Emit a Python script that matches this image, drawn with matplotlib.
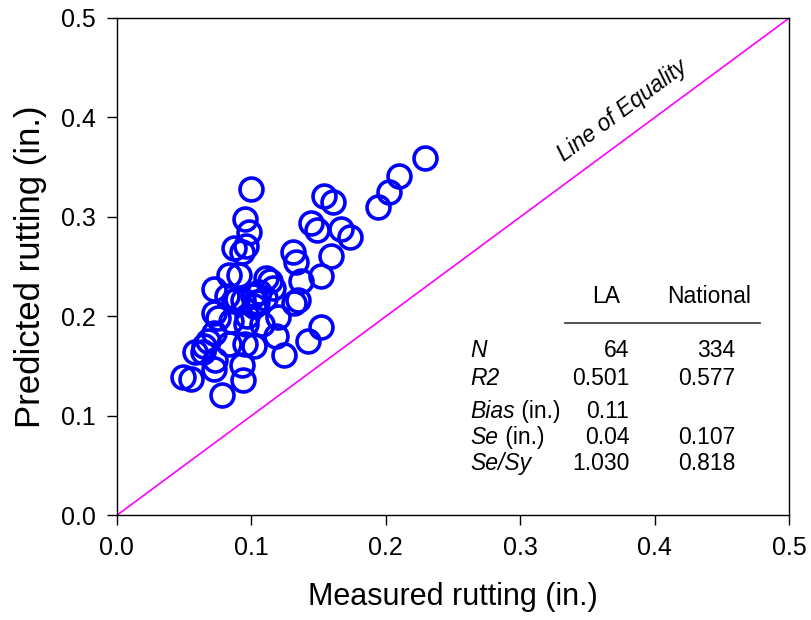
import numpy as np
import matplotlib.pyplot as plt

plt.rcParams['font.family'] = ['Liberation Sans', 'DejaVu Sans']

# measured vs predicted rutting (in.)
measured = [0.229, 0.210, 0.202, 0.194, 0.154, 0.161, 0.144, 0.149, 0.167, 0.173,
            0.159, 0.131, 0.133, 0.152, 0.137, 0.135, 0.132, 0.152, 0.142, 0.124,
            0.100, 0.0955, 0.098, 0.087, 0.096, 0.093, 0.083, 0.091, 0.072, 0.111,
            0.114, 0.116, 0.106, 0.101, 0.094, 0.089, 0.082, 0.072, 0.075, 0.085,
            0.096, 0.108, 0.120, 0.104, 0.102, 0.118, 0.095, 0.102, 0.083, 0.072,
            0.068, 0.065, 0.058, 0.064, 0.072, 0.073, 0.093, 0.094, 0.078, 0.049,
            0.055, 0.087, 0.097, 0.110]
predicted = [0.359, 0.341, 0.325, 0.310, 0.321, 0.315, 0.294, 0.287, 0.288, 0.280,
             0.261, 0.265, 0.255, 0.241, 0.236, 0.216, 0.213, 0.189, 0.175, 0.161,
             0.328, 0.298, 0.285, 0.269, 0.271, 0.265, 0.242, 0.242, 0.227, 0.239,
             0.236, 0.228, 0.224, 0.220, 0.216, 0.217, 0.220, 0.203, 0.198, 0.195,
             0.192, 0.192, 0.199, 0.214, 0.210, 0.180, 0.172, 0.170, 0.172, 0.183,
             0.175, 0.170, 0.164, 0.164, 0.147, 0.156, 0.151, 0.136, 0.121, 0.139,
             0.137, 0.215, 0.200, 0.218]

equality = [0.0, 0.5]

# summary statistics table
stat_names = ['N', 'R2', 'Bias', 'Se', 'Se/Sy']
stat_units = ['', '', ' (in.)', ' (in.)', '']
la_vals = ['64', '0.501', '0.11', '0.04', '1.030']
nat_vals = ['334', '0.577', '', '0.107', '0.818']

fig = plt.figure(figsize=(8.12, 6.2), dpi=100)
ax = fig.add_axes([0.144, 0.169, 0.828, 0.802])

ax.plot(equality, equality, color='#ff00ff', lw=1.2, zorder=2)
ax.plot(measured, predicted, 'o', ms=16.5, mfc='none', mec='#0000ff', mew=2.6,
        zorder=3, clip_on=False)

ax.set_xlim(0, 0.5)
ax.set_ylim(0, 0.5)
ax.set_xticks(np.arange(0, 0.51, 0.1))
ax.set_yticks(np.arange(0, 0.51, 0.1))
ax.xaxis.set_major_formatter(plt.FormatStrFormatter('%.1f'))
ax.yaxis.set_major_formatter(plt.FormatStrFormatter('%.1f'))
ax.tick_params(direction='out', length=7, width=1, labelsize=18, pad=8)
for s in ax.spines.values():
    s.set_linewidth(1)

ax.set_xlabel('Measured rutting (in.)', fontsize=22, labelpad=16)
ax.set_ylabel('Predicted rutting (in.)', fontsize=25, labelpad=10)

# line of equality label
ax.text(0.376, 0.407, 'Line of Equality', rotation=36.5, rotation_mode='anchor',
        ha='center', va='center', style='italic', fontsize=16.3)

# table
fs = 16.5
ax.text(0.3635, 0.2195, 'LA', ha='center', va='center', fontsize=fs)
ax.text(0.440, 0.2195, 'National', ha='center', va='center', fontsize=fs)
ax.plot([0.333, 0.478], [0.193, 0.193], color='#333333', lw=1.2)
row_y = [0.159, 0.131, 0.098, 0.072, 0.045]
for name, unit, la, nat, yy in zip(stat_names, stat_units, la_vals, nat_vals, row_y):
    t = ax.text(0.263, yy, name, ha='left', va='baseline', style='italic', fontsize=fs)
    if unit:
        ax.annotate(unit, xy=(1, 0), xycoords=t, ha='left', va='bottom', fontsize=fs)
    ax.text(0.381, yy, la, ha='right', va='baseline', fontsize=fs)
    ax.text(0.460, yy, nat, ha='right', va='baseline', fontsize=fs)

fig.savefig('out.png', dpi=100)
